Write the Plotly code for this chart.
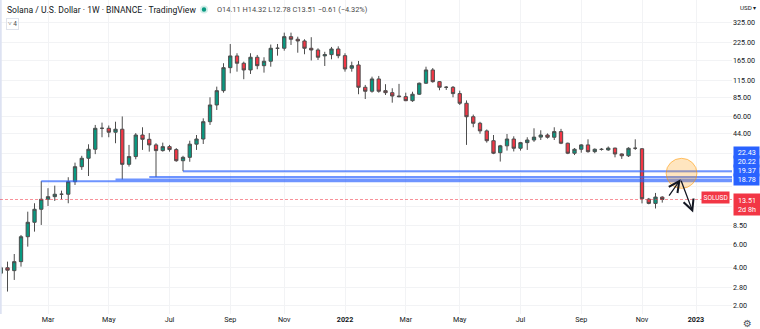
import math
import pandas as pd
import plotly.graph_objects as go

# ---- SOL/USD weekly candles (Binance), week starting Monday ----
first_week = "2021-01-11"
open_ = [3.60, 3.97, 3.77, 4.43, 6.93, 8.98, 11.34, 13.57, 14.22, 14.85,
         14.85, 18.61, 24.35, 28.33, 33.3, 48.5, 48.5, 45.2, 47.7, 25.4,
         29.2, 43.0, 39.8, 36.0, 32.5, 34.9, 33.1, 27.1, 28.8, 36.5,
         40.0, 54.6, 73.7, 95.3, 144.0, 177.7, 155.9, 138.2, 173.6, 149.2,
         161.6, 203.9, 203.9, 251.2, 239.7, 232.5, 203.9, 197.8, 177.9, 182.0,
         201.4, 178.6, 142.5, 151.1, 101.3, 94.3, 117.6, 95.3, 91.9, 86.6,
         85.6, 79.6, 89.4, 108.9, 138.2, 112.0, 101.3, 101.2, 90.4, 76.0,
         59.7, 53.1, 46.3, 38.8, 31.3, 35.4, 40.0, 33.9, 37.5, 39.3,
         41.4, 43.0, 41.3, 45.7, 37.1, 31.0, 33.3, 36.0, 31.9, 33.3,
         32.9, 34.0, 30.6, 29.6, 33.9, 33.6, 13.6, 12.6, 14.11]
high = [4.10, 4.43, 5.08, 7.15, 10.86, 12.63, 18.78, 16.55, 17.32, 15.84,
        20.15, 26.18, 29.6, 36.4, 51.5, 53.7, 51.0, 54.6, 60.0, 36.0,
        44.5, 49.4, 44.5, 37.1, 37.5, 36.0, 34.0, 29.6, 38.8, 43.0,
        58.0, 84.6, 102.4, 155.9, 220.0, 186.5, 160.4, 186.5, 180.9, 173.6,
        218.0, 220.3, 269.9, 269.9, 251.0, 239.7, 248.8, 203.9, 191.4, 208.9,
        211.2, 186.5, 160.4, 162.4, 105.6, 122.5, 124.1, 107.0, 99.5, 107.6,
        91.9, 93.5, 110.2, 146.5, 143.0, 113.0, 103.5, 103.6, 95.3, 80.0,
        62.0, 54.5, 47.5, 43.0, 36.0, 43.8, 42.0, 38.0, 41.3, 48.5,
        46.8, 44.2, 49.4, 48.0, 37.5, 34.0, 36.5, 39.8, 33.8, 34.0,
        35.0, 34.2, 30.9, 34.5, 39.8, 34.0, 13.9, 15.2, 14.32]
low = [3.40, 2.59, 3.19, 4.05, 5.80, 7.59, 8.56, 12.03, 13.17, 13.57,
       12.63, 17.54, 23.0, 20.6, 30.5, 41.3, 41.3, 37.1, 19.37, 24.4,
       27.8, 32.9, 31.9, 20.22, 31.9, 31.9, 26.6, 22.43, 26.6, 32.9,
       36.6, 51.5, 67.4, 91.9, 130.2, 134.0, 117.0, 128.6, 140.0, 131.7,
       146.5, 178.6, 195.3, 216.4, 188.3, 183.2, 163.8, 165.4, 148.4, 167.4,
       170.4, 134.0, 134.0, 89.4, 82.0, 91.9, 91.9, 88.2, 76.8, 84.6,
       79.0, 78.0, 88.2, 107.6, 110.0, 96.0, 96.5, 84.6, 73.7, 36.0,
       49.4, 44.0, 37.5, 30.5, 26.7, 32.5, 32.0, 32.5, 32.9, 38.0,
       39.3, 40.3, 39.3, 36.5, 30.5, 30.0, 31.3, 31.3, 31.0, 32.5,
       32.4, 28.8, 28.0, 29.0, 32.9, 12.6, 12.4, 11.5, 12.78]
close = [3.97, 3.80, 4.43, 6.93, 8.98, 11.34, 13.57, 14.22, 14.85, 14.85,
         18.61, 24.35, 28.33, 33.3, 48.5, 48.5, 45.2, 47.7, 25.4, 29.2,
         43.0, 39.8, 36.0, 32.5, 34.9, 33.1, 27.1, 28.8, 36.5, 40.0,
         54.6, 73.7, 95.3, 144.0, 177.7, 155.9, 138.2, 173.6, 149.2, 161.6,
         203.9, 203.9, 251.2, 239.7, 232.5, 203.9, 197.8, 173.6, 182.0, 201.4,
         178.6, 140.7, 149.2, 101.3, 94.3, 117.6, 94.3, 91.9, 86.6, 85.6,
         79.6, 89.4, 108.9, 138.2, 112.0, 101.3, 101.2, 90.4, 76.0, 59.7,
         53.1, 46.3, 38.8, 31.0, 35.4, 40.0, 33.9, 37.5, 39.3, 41.4,
         43.0, 41.3, 45.7, 37.1, 31.0, 33.3, 36.0, 31.9, 33.3, 33.2,
         34.0, 30.6, 29.6, 33.9, 33.9, 13.7, 12.6, 14.12, 13.51]
weeks = pd.date_range(first_week, periods=len(close), freq="W-MON")

# ---- horizontal support rays drawn on the chart ----
level_prices = [18.78, 19.37, 20.22, 22.43]
level_starts = ["2021-02-22", "2021-05-10", "2021-06-14", "2021-07-19"]
level_label_shift = [1.5, 9.0, 16.0, 18.5]   # stacked price-scale tags

last_price = 13.51
bar_countdown = "2d 8h"

# ---- projection drawing: retest zone and arrows ----
zone_dates = ["2022-12-02", "2023-01-03"]
zone_prices = [16.5, 28.3]
arrow_dates = ["2022-12-04", "2022-12-17", "2022-12-30"]
arrow_prices = [14.1, 19.4, 10.7]

# ---- axis ticks (labels hidden under the price tags are left blank) ----
x_tick_dates = ["2021-03-01", "2021-05-03", "2021-07-05", "2021-09-06", "2021-11-01",
                "2022-01-03", "2022-03-07", "2022-05-02", "2022-07-04", "2022-09-05",
                "2022-11-07", "2023-01-02"]
x_tick_text = ["Mar", "May", "Jul", "Sep", "Nov", "<b>2022</b>",
               "Mar", "May", "Jul", "Sep", "Nov", "<b>2023</b>"]
y_tick_vals = [2, 2.8, 4, 6, 8.5, 12, 17, 22, 31, 44, 60, 85, 115, 165, 225, 325]
y_tick_text = ["2.00", "2.80", "4.00", "6.00", "8.50", "", "", "", "",
               "44.00", "60.00", "85.00", "115.00", "165.00", "225.00", "325.00"]

UP = "#089981"
DOWN = "#f23645"
BLUE = "#2962ff"
INK = "#131722"
FONT = "Roboto"

W, H = 760, 329
ML, MR, MT, MB = 0, 28, 0, 15
PW, PH = W - ML - MR, H - MT - MB


def px(xp):
    return (xp - ML) / PW


def py(yp):
    return 1 - (yp - MT) / PH


fig = go.Figure()
fig.add_trace(go.Candlestick(
    x=weeks, open=open_, high=high, low=low, close=close,
    increasing=dict(fillcolor=UP, line=dict(color="#4d4d4d", width=1)),
    decreasing=dict(fillcolor=DOWN, line=dict(color="#4d4d4d", width=1)),
    whiskerwidth=0, hoverinfo="skip", showlegend=False,
))

shapes = []
# left edge of the pane
shapes.append(dict(type="line", xref="paper", yref="paper", x0=0.001, x1=0.001, y0=0, y1=1,
                   line=dict(color="#dde2f2", width=2)))
# current price line
shapes.append(dict(type="line", xref="paper", yref="y", x0=0, x1=1, y0=last_price, y1=last_price,
                   line=dict(color="rgba(242,54,69,0.55)", width=1, dash="3px,2px")))
# support rays
for p, d in zip(level_prices, level_starts):
    shapes.append(dict(type="line", xref="x", yref="y", x0=d, x1="2023-06-01", y0=p, y1=p,
                       line=dict(color="rgba(41,98,255,0.68)", width=2)))
# retest zone
shapes.append(dict(type="circle", xref="x", yref="y", x0=zone_dates[0], x1=zone_dates[1],
                   y0=zone_prices[0], y1=zone_prices[1],
                   fillcolor="rgba(255,152,0,0.25)", line=dict(color="rgba(255,152,0,0.55)", width=1)))
# green status dot in the legend line
shapes.append(dict(type="circle", xref="paper", yref="paper", xsizemode="pixel", ysizemode="pixel",
                   xanchor=px(204), yanchor=py(9.5), x0=-4, x1=4, y0=-4, y1=4,
                   fillcolor="rgba(8,153,129,0.18)", line=dict(width=0)))
shapes.append(dict(type="circle", xref="paper", yref="paper", xsizemode="pixel", ysizemode="pixel",
                   xanchor=px(204), yanchor=py(9.5), x0=-2.2, x1=2.2, y0=-2.2, y1=2.2,
                   fillcolor=UP, line=dict(width=0)))

ann = []
ann.append(dict(xref="paper", yref="paper", x=px(5), y=py(10), xanchor="left", yanchor="middle",
                text="Solana / U.S. Dollar · 1W · BINANCE · TradingView", showarrow=False,
                font=dict(family=FONT, size=8.6, color=INK)))
ohlc_text = (f"O{open_[-1]:.2f} H{high[-1]:.2f} L{low[-1]:.2f} C{close[-1]:.2f} "
             f"−{close[-2] - close[-1]:.2f} (−{(close[-2] - close[-1]) / close[-2] * 100:.2f}%)")
ann.append(dict(xref="paper", yref="paper", x=px(215), y=py(10), xanchor="left", yanchor="middle",
                text=ohlc_text, showarrow=False, font=dict(family=FONT, size=7.4, color="#4a4a4a")))
ann.append(dict(xref="paper", yref="paper", x=px(6), y=py(23.5), xanchor="left", yanchor="middle",
                text="˅ 4", showarrow=False, bordercolor="#e0e3eb", borderwidth=1, borderpad=1,
                font=dict(family=FONT, size=6.5, color="#4a4a4a")))
ann.append(dict(xref="paper", yref="paper", x=px(738), y=py(8), xanchor="left", yanchor="middle",
                text="USD ▾", showarrow=False, font=dict(family=FONT, size=6.2, color=INK)))
ann.append(dict(xref="paper", yref="paper", x=px(747), y=py(323), xanchor="center", yanchor="middle",
                text="⚙", showarrow=False, font=dict(family="DejaVu Sans", size=10, color="#50535e")))

# stacked tags of the support rays on the price scale
for p, s in zip(level_prices, level_label_shift):
    ann.append(dict(xref="paper", yref="y", x=1, y=math.log10(p), xanchor="left", yanchor="middle",
                    xshift=1, yshift=s, text=f"{p:.2f}", showarrow=False, bgcolor=BLUE,
                    width=23, borderpad=1.2, align="center",
                    font=dict(family=FONT, size=7.2, color="white")))
# symbol and last price tags
ann.append(dict(xref="paper", yref="y", x=1, y=math.log10(last_price), xanchor="right", yanchor="middle",
                xshift=-2, yshift=2, text="SOLUSD", showarrow=False, bgcolor=DOWN, borderpad=1.5,
                font=dict(family=FONT, size=6.6, color="white")))
ann.append(dict(xref="paper", yref="y", x=1, y=math.log10(last_price), xanchor="left", yanchor="top",
                xshift=1, yshift=7, text=f"{last_price:.2f}<br>{bar_countdown}", showarrow=False,
                bgcolor=DOWN, width=23, borderpad=1.5, align="center",
                font=dict(family=FONT, size=7.2, color="white")))

# projection arrows
for i in range(2):
    ann.append(dict(xref="x", yref="y", axref="x", ayref="y",
                    x=arrow_dates[i + 1], y=math.log10(arrow_prices[i + 1]),
                    ax=arrow_dates[i], ay=math.log10(arrow_prices[i]),
                    text="", showarrow=True, arrowhead=5, arrowsize=1.6, arrowwidth=1.3,
                    arrowcolor=INK))

fig.update_layout(
    width=W, height=H, margin=dict(l=ML, r=MR, t=MT, b=MB),
    paper_bgcolor="white", plot_bgcolor="white",
    shapes=shapes, annotations=ann, showlegend=False,
    font=dict(family=FONT, color=INK),
    xaxis=dict(type="date", range=["2021-01-10 05:00", "2023-02-08 08:00"],
               tickmode="array", tickvals=x_tick_dates, ticktext=x_tick_text,
               tickfont=dict(family=FONT, size=7.2, color=INK), ticks="",
               showgrid=True, gridcolor="#f2f3f5", gridwidth=1, zeroline=False,
               showline=False, rangeslider=dict(visible=False), fixedrange=True),
    yaxis=dict(type="log", side="right", range=[0.2383, 2.6857],
               tickmode="array", tickvals=y_tick_vals, ticktext=y_tick_text,
               tickfont=dict(family=FONT, size=7.2, color=INK), ticks="",
               showgrid=True, gridcolor="#f2f3f5", gridwidth=1, zeroline=False,
               showline=False, fixedrange=True),
)

fig.write_html("out.html")
